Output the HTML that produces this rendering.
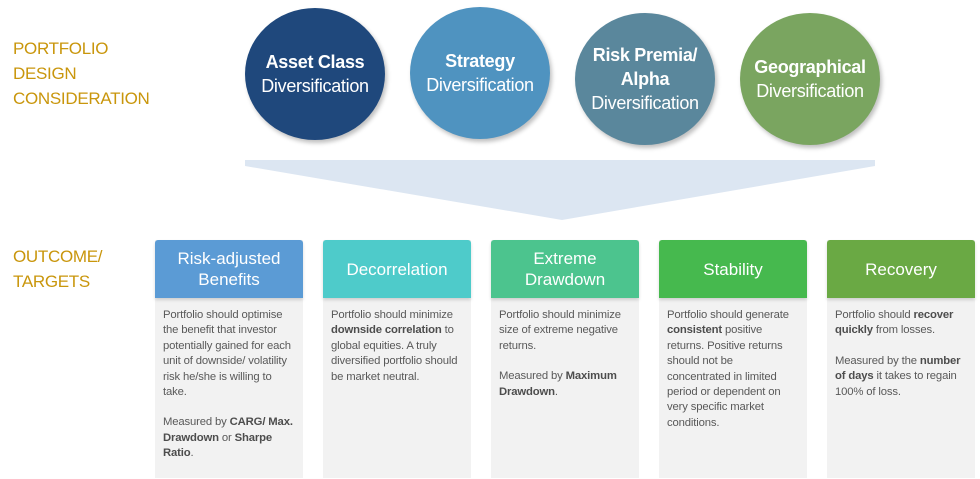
<!DOCTYPE html>
<html><head><meta charset="utf-8"><style>
body{margin:0;width:980px;height:479px;background:#fff;position:relative;overflow:hidden;font-family:"Liberation Sans",sans-serif}
.lbl{position:absolute;left:13px;color:#c9960c;font-size:17px;line-height:25px;letter-spacing:-0.3px}
.c{position:absolute;width:140px;height:132px;border-radius:50%;color:#fff;display:flex;flex-direction:column;align-items:center;justify-content:center;text-align:center;font-size:18px;line-height:24px;box-shadow:2px 3px 4px rgba(0,0,0,.25);letter-spacing:-0.3px}
.c b{font-size:18px}
.col{position:absolute;top:240px;width:148px;height:238px;background:#f2f2f2}
.h{height:58px;color:#fff;font-size:17px;line-height:21px;display:flex;align-items:center;justify-content:center;text-align:center;border-radius:3px 3px 0 0;box-shadow:0 2px 3px rgba(0,0,0,.15)}
.t{padding:10px 0 0 8px;color:#595959;font-size:11.3px;line-height:15.4px;letter-spacing:-0.15px;white-space:nowrap}
.t b{color:#4d4d4d}
.t p{margin:0 0 15px}
</style></head><body>
<div class="lbl" style="top:36px">PORTFOLIO<br>DESIGN<br>CONSIDERATION</div>
<div class="lbl" style="top:244px">OUTCOME/<br>TARGETS</div>
<div class="c" style="left:245px;top:8px;background:#1f487c"><b>Asset Class</b>Diversification</div>
<div class="c" style="left:410px;top:7px;background:#4f93c0"><b>Strategy</b>Diversification</div>
<div class="c" style="left:575px;top:13px;background:#5a879c"><b>Risk Premia/<br>Alpha</b>Diversification</div>
<div class="c" style="left:740px;top:13px;background:#7aa560"><b>Geographical</b>Diversification</div>
<svg style="position:absolute;left:0;top:0" width="980" height="479"><polygon points="245,160 875,160 875,166 562,220 245,166" fill="#dce6f2"/></svg>
<div class="col" style="left:155px"><div class="h" style="background:#5b9bd5">Risk-adjusted<br>Benefits</div><div class="t"><p>Portfolio should optimise<br>the benefit that investor<br>potentially gained for each<br>unit of downside/ volatility<br>risk he/she is willing to<br>take.</p><p>Measured by <b>CARG/ Max.</b><br><b>Drawdown</b> or <b>Sharpe</b><br><b>Ratio</b>.</p></div></div>
<div class="col" style="left:323px"><div class="h" style="background:#4ecbca">Decorrelation</div><div class="t"><p>Portfolio should minimize<br><b>downside correlation</b> to<br>global equities. A truly<br>diversified portfolio should<br>be market neutral.</p></div></div>
<div class="col" style="left:491px"><div class="h" style="background:#4cc48e">Extreme<br>Drawdown</div><div class="t"><p>Portfolio should minimize<br>size of extreme negative<br>returns.</p><p>Measured by <b>Maximum</b><br><b>Drawdown</b>.</p></div></div>
<div class="col" style="left:659px"><div class="h" style="background:#46b94e">Stability</div><div class="t"><p>Portfolio should generate<br><b>consistent</b> positive<br>returns. Positive returns<br>should not be<br>concentrated in limited<br>period or dependent on<br>very specific market<br>conditions.</p></div></div>
<div class="col" style="left:827px"><div class="h" style="background:#6aa944">Recovery</div><div class="t"><p>Portfolio should <b>recover</b><br><b>quickly</b> from losses.</p><p>Measured by the <b>number</b><br><b>of days</b> it takes to regain<br>100% of loss.</p></div></div>
</body></html>
